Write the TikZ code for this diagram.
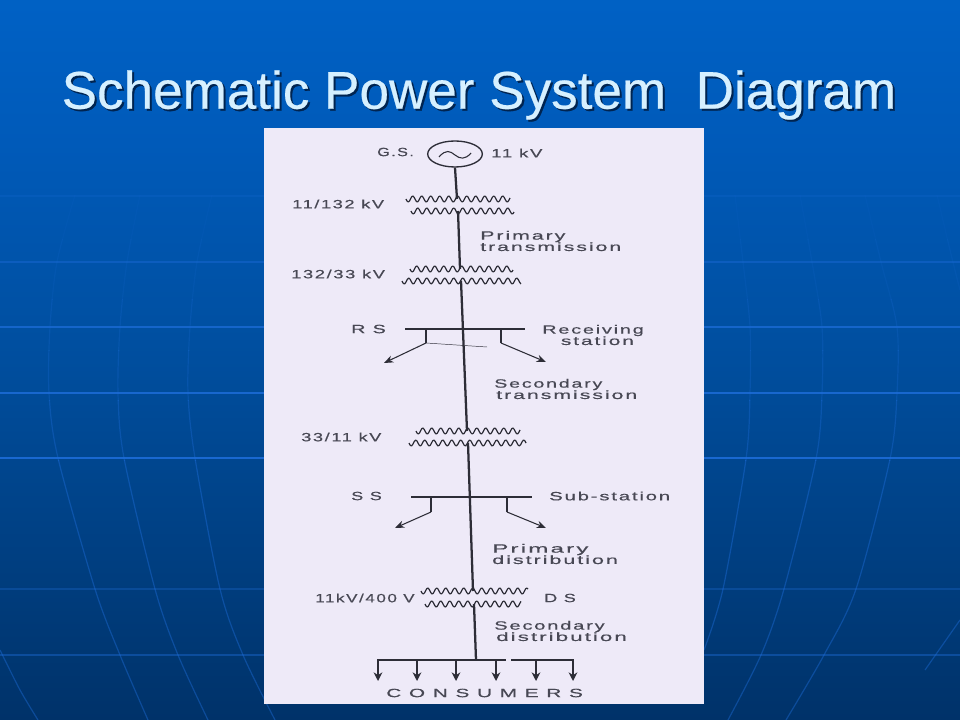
\documentclass[tikz,border=0pt]{standalone}
\usepackage{graphicx}
\usepackage{fontspec}
\usetikzlibrary{arrows.meta,shapes.geometric}
\setmainfont{Liberation Sans}
\newfontfamily\scanfont[FakeStretch=1.78,LetterSpace=16,FakeBold=0.5]{Liberation Sans}
\newfontfamily\headfont[FakeBold=0.4]{Liberation Sans}
\newcommand{\labelfont}{\fontsize{9}{8.5}\selectfont\scanfont\lineskiplimit=-20pt\relax}
\definecolor{bgA}{RGB}{0,38,80}
\definecolor{bgB}{RGB}{0,50,105}
\definecolor{bgC}{RGB}{0,78,158}
\definecolor{bgE}{RGB}{0,90,185}
\definecolor{bgD}{RGB}{0,104,208}
\definecolor{panel}{RGB}{238,234,248}
\definecolor{ink}{RGB}{45,45,55}
\definecolor{labelink}{RGB}{72,72,84}
\definecolor{gridc}{RGB}{30,110,220}
\definecolor{titlec}{RGB}{214,240,255}
\definecolor{titles}{RGB}{0,36,80}
\pgfdeclareverticalshading{slidebg}{100bp}{color(0bp)=(bgA); color(25bp)=(bgB); color(50bp)=(bgC); color(65bp)=(bgE); color(85bp)=(bgD); color(100bp)=(bgD)}
\tikzset{
  mainline/.style={draw=ink,line width=1.7pt},
  thinline/.style={draw=ink,line width=.8pt},
  coilline/.style={draw=ink,line width=.9pt},
  feeder/.style={draw=ink,line width=.8pt,-{Stealth[length=7pt,width=5.5pt]}},
  label/.style={inner sep=0pt,anchor=west,text=labelink,font=\labelfont,align=left},
  titletext/.style={inner sep=0pt,font=\fontsize{39.8}{42}\selectfont\headfont},
  gridh/.style={draw=gridc,line width=.9pt},
  gridv/.style={draw=gridc,line width=.9pt}
}
\newcommand{\sx}[2]{\scalebox{#1}[1]{#2}}
\newcommand{\coil}[3]{\draw[coilline,line join=round] plot[domain=#1:#2,samples=90,smooth] (\x,{#3+3*sin(40*(\x-#1))});}
\newcommand{\gridcurves}{%
  \draw[gridv] plot[smooth] coordinates {(75,195) (57,262) (50,327) (49,393) (58,458) (95,589) (120,655) (148,720)};
  \draw[gridv] plot[smooth] coordinates {(140,195) (127,262) (120,327) (118,393) (124,458) (155,589) (178,655) (208,720)};
  \draw[gridv] plot[smooth] coordinates {(212,195) (197,262) (190,327) (188,393) (195,458) (220,589) (243,655) (275,720)};
  \draw[gridv] plot[smooth] coordinates {(735,195) (743,262) (750,327) (750,393) (746,459) (723,589) (704,650)};
  \draw[gridv] plot[smooth] coordinates {(800,195) (812,262) (822,327) (822,393) (816,459) (784,589) (761,655) (728,720)};
  \draw[gridv] plot[smooth] coordinates {(865,195) (881,262) (897,327) (897,393) (890,459) (856,589) (824,655) (786,720)};
  \draw[gridv] plot[smooth] coordinates {(937,195) (950,250) (960,290)};
  \draw[gridv] plot[smooth] coordinates {(0,650) (20,690) (38,720)};
  \draw[gridv] plot[smooth] coordinates {(960,620) (925,670)};
}
\begin{document}
\begin{tikzpicture}[x=.75pt,y=-.75pt]
\useasboundingbox (0,0) rectangle (960,720);
\shade[shading=slidebg] (0,0) rectangle (960,720);
% background grid, fading upwards
\foreach \ya/\yb/\op in {185/240/.08,240/300/.13,300/350/.2,350/400/.26,400/460/.34,460/720/.42}{
  \begin{scope}
    \clip (0,\ya) rectangle (960,\yb);
    \begin{scope}[opacity=\op]\gridcurves\end{scope}
  \end{scope}
}
\draw[gridh,opacity=.18] (0,196) -- (960,196);
\draw[gridh,opacity=.4] (0,262) -- (960,262);
\draw[gridh,opacity=.7] (0,327) -- (960,327);
\draw[gridh,opacity=.8] (0,393) -- (960,393);
\draw[gridh,opacity=.85] (0,458) -- (960,458);
\draw[gridh,opacity=.3] (0,589) -- (960,589);
\draw[gridh,opacity=.4] (0,655) -- (960,655);
% title
\node[titletext,text=titles] (titleshadow) at (481,97) {Schematic Power System\ \ Diagram};
\node[titletext,text=titlec] (title) at (479,95) {Schematic Power System\ \ Diagram};
% scanned sheet
\fill[panel] (264,128) rectangle (704,704);
% generator
\node[ellipse,draw=ink,line width=1pt,minimum width=41pt,minimum height=19.5pt,inner sep=0pt] (gen) at (455,154) {};
\draw[thinline] (439,157) .. controls (446,149) and (450,151) .. (455,155) .. controls (460,159) and (465,160) .. (471,153);
% connection points
\coordinate (t1a) at (457,199);
\coordinate (t1b) at (458,211);
\coordinate (t2a) at (460,269);
\coordinate (t2b) at (461,281);
\coordinate (t3a) at (467,431);
\coordinate (t3b) at (468,443);
\coordinate (t4a) at (473,591);
\coordinate (t4b) at (474,604);
\coordinate (cbus) at (476,660);
\coordinate (rl) at (426,329);
\coordinate (rr) at (501,329);
\coordinate (rla) at (426,343);
\coordinate (rra) at (501,343);
\coordinate (rle) at (384,363);
\coordinate (rre) at (546,362);
\coordinate (rth) at (487,347);
\coordinate (rb1) at (405,329);
\coordinate (rb2) at (525,329);
\coordinate (sb1) at (411,497);
\coordinate (sb2) at (532,497);
\coordinate (sl) at (431,497);
\coordinate (sr) at (507,497);
\coordinate (sla) at (431,512);
\coordinate (sra) at (507,512);
\coordinate (sle) at (395,528);
\coordinate (sre) at (546,528);
\coordinate (cb1) at (377,660);
\coordinate (cb2) at (506,660);
\coordinate (cb3) at (511,660);
\coordinate (cb4) at (574,660);
% main line
\draw[mainline] (gen.south) -- (t1a);
\draw[mainline] (t1b) -- (t2a);
\draw[mainline] (t2b) -- (t3a);
\draw[mainline] (t3b) -- (t4a);
\draw[mainline] (t4b) -- (cbus);
% transformers
\coil{406}{510}{199}
\coil{411}{514}{211}
\coil{410}{513}{269}
\coil{402}{521}{281}
\coil{416}{520}{431}
\coil{409}{526}{443}
\coil{421}{528}{591}
\coil{425}{521}{604}
% receiving station
\draw[thinline] (rb1) -- (rb2);
\draw[mainline,line width=1.1pt] (rl) -- (rla);
\draw[mainline,line width=1.1pt] (rr) -- (rra);
\draw[feeder] (rla) -- (rle);
\draw[feeder] (rra) -- (rre);
\draw[draw=ink,line width=.35pt] (rla) -- (rth);
% sub-station
\draw[thinline] (sb1) -- (sb2);
\draw[mainline,line width=1.1pt] (sl) -- (sla);
\draw[mainline,line width=1.1pt] (sr) -- (sra);
\draw[feeder] (sla) -- (sle);
\draw[feeder] (sra) -- (sre);
% consumers
\draw[thinline] (cb1) -- (cb2);
\draw[thinline] (cb3) -- (cb4);
\foreach \i/\cx in {1/378,2/417,3/456,4/496,5/536,6/573}{
  \coordinate (ca\i) at (\cx,660);
  \coordinate (ce\i) at (\cx,681);
  \draw[draw=ink,line width=1pt,-{Stealth[length=6.5pt,width=6.5pt]}] (ca\i) -- (ce\i);
}
% labels
\node[label] (lgs) at (377,152) {\sx{.755}{G.S.}};
\node[label] (lkv) at (491,153) {\sx{.87}{11 kV}};
\node[label] (l1) at (292,204) {\sx{.85}{11/132 kV}};
\node[label] (l2) at (480,241) {\sx{1}{Primary}\\\sx{1}{transmission}};
\node[label] (l3) at (291,274) {\sx{.855}{132/33 kV}};
\node[label] (lrs) at (351,329) {\sx{.92}{R S}};
\node[label] (lrec) at (542,335) {\sx{.93}{Receiving}\\\hspace*{14pt}\sx{.98}{station}};
\node[label] (l4) at (494,389) {\sx{.92}{Secondary}\\\hspace*{1.5pt}\sx{1}{transmission}};
\node[label] (l5) at (301,437) {\sx{.85}{33/11 kV}};
\node[label] (lss) at (351,496) {\sx{.84}{S S}};
\node[label] (lsub) at (549,496) {\sx{.95}{Sub-station}};
\node[label] (l6) at (492,554) {\sx{1.13}{Primary}\\\sx{1.01}{distribution}};
\node[label] (l7) at (315,598) {\sx{.8}{11kV/400 V}};
\node[label] (lds) at (544,598) {\sx{.84}{D S}};
\node[label] (l8) at (494,631) {\sx{.94}{Secondary}\\\hspace*{1.5pt}\sx{1.05}{distribution}};
\node[label] (lcons) at (386,693) {\sx{.975}{C O N S U M E R S}};
\end{tikzpicture}
\end{document}
